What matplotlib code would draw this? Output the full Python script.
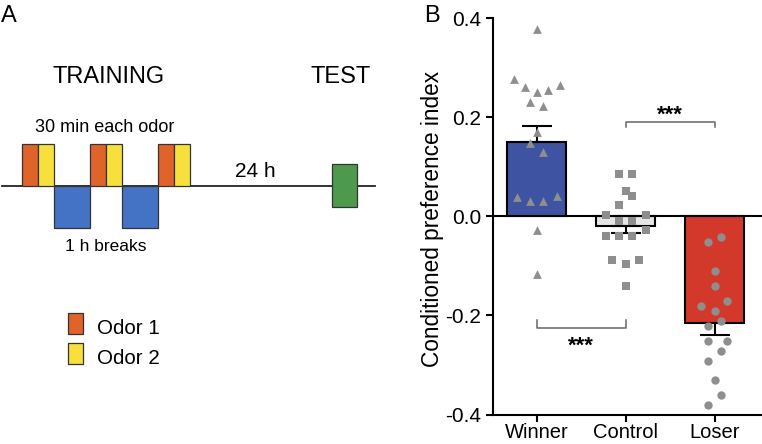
import numpy as np
import matplotlib
matplotlib.use("Agg")
import matplotlib.pyplot as plt
from matplotlib.patches import Rectangle

plt.rcParams['font.family'] = ['Liberation Sans', 'DejaVu Sans']
plt.rcParams['axes.unicode_minus'] = False

# ---- data (panel B) ----
groups = ['Winner', 'Control', 'Loser']
means = [0.151, -0.019, -0.215]
sems = [0.032, 0.014, 0.025]

winner_pts = [0.378, 0.277, 0.261, 0.251, 0.255, 0.265, 0.230, 0.222, 0.171,
              0.149, 0.131, 0.039, 0.032, 0.032, 0.042, -0.027, -0.117]
winner_jit = [0.0, -0.26, -0.13, 0.0, 0.13, 0.26, -0.075, 0.075, 0.0,
              -0.075, 0.075, -0.225, -0.075, 0.075, 0.225, 0.0, 0.0]

control_pts = [0.085, 0.085, 0.051, 0.041, 0.023, 0.002, 0.002, -0.009, -0.009,
               -0.027, -0.040, -0.040, -0.040, -0.089, -0.097, -0.089, -0.140]
control_jit = [-0.075, 0.075, 0.0, 0.075, -0.075, -0.225, 0.225, -0.075, 0.075,
               0.225, -0.225, -0.075, 0.075, -0.15, 0.0, 0.15, 0.0]

loser_pts = [-0.051, -0.042, -0.110, -0.141, -0.180, -0.170, -0.191, -0.211,
             -0.221, -0.251, -0.251, -0.271, -0.291, -0.331, -0.361, -0.381]
loser_jit = [-0.08, 0.07, 0.0, 0.0, -0.16, 0.14, 0.0, 0.07,
             -0.08, -0.08, 0.14, 0.07, -0.08, 0.0, 0.07, -0.08]

bar_colors = ['#3F53A3', '#E6E6E6', '#D3392A']
pt_color = '#8E8E8E'

# ---- schematic (panel A), in diagram units ----
n_sessions = 3
period = 68
odor_w = 16
break_w = 36
first_start = 22

fig = plt.figure(figsize=(7.62, 4.44), dpi=100)

# ================= Panel A =================
axA = fig.add_axes([0, 0, 0.5, 1])
axA.set_xlim(0, 381)
axA.set_ylim(444, 0)
axA.axis('off')

line_y = 186.3
axA.plot([2, 375], [line_y, line_y], color='#222222', lw=1.3, zorder=1)

for i in range(n_sessions):
    x0 = first_start + i * period
    axA.add_patch(Rectangle((x0, line_y - 42), odor_w, 42, fc='#E0642A', ec='#333333', lw=0.9, zorder=2))
    axA.add_patch(Rectangle((x0 + odor_w, line_y - 42), odor_w, 42, fc='#F7E03C', ec='#333333', lw=0.9, zorder=2))
    if i < n_sessions - 1:
        axA.add_patch(Rectangle((x0 + 2 * odor_w, line_y), break_w, 41.5, fc='#4472C4', ec='#333333', lw=0.9, zorder=2))

axA.add_patch(Rectangle((332.3, 164.3), 24.4, 42.7, fc='#4E9A4C', ec='#333333', lw=0.9, zorder=2))

axA.text(1, 22, 'A', fontsize=17, ha='left', va='baseline')
axA.text(109, 83.3, 'TRAINING', fontsize=17, ha='center', va='baseline')
axA.text(341, 83.3, 'TEST', fontsize=17, ha='center', va='baseline')
axA.text(105, 131.7, '30 min each odor', fontsize=13, ha='center', va='baseline')
axA.text(255, 176.7, '24 h', fontsize=15, ha='center', va='baseline')
axA.text(106, 250.7, '1 h breaks', fontsize=12.5, ha='center', va='baseline')

axA.add_patch(Rectangle((67.7, 313.3), 15.6, 21, fc='#E0642A', ec='#333333', lw=0.9))
axA.add_patch(Rectangle((67.7, 343), 15.6, 21, fc='#F7E03C', ec='#333333', lw=0.9))
axA.text(96.7, 334.3, 'Odor 1', fontsize=14.8, ha='left', va='baseline')
axA.text(96.7, 364, 'Odor 2', fontsize=14.8, ha='left', va='baseline')

# ================= Panel B =================
axB = fig.add_axes([492.7 / 762, 29.5 / 444, (762 - 492.7) / 762, 396.2 / 444])
x = np.arange(len(groups))
axB.bar(x, means, width=0.66, color=bar_colors, edgecolor='black', linewidth=1.5, zorder=2)

for xi, m, s in zip(x, means, sems):
    yerr = [[0], [s]] if m > 0 else [[s], [0]]
    axB.errorbar([xi], [m], yerr=yerr, fmt='none', ecolor='black', elinewidth=1.5,
                 capsize=11, capthick=1.5, zorder=3)

axB.scatter(x[0] + np.array(winner_jit), winner_pts, marker='^', s=40, color=pt_color, lw=0, zorder=4)
axB.scatter(x[1] + np.array(control_jit), control_pts, marker='s', s=38, color=pt_color, lw=0, zorder=4)
axB.scatter(x[2] + np.array(loser_jit), loser_pts, marker='o', s=36, color=pt_color, lw=0, zorder=4)

axB.axhline(0, color='black', lw=1.5, zorder=3)
axB.set_xlim(-0.494, 2.53)
axB.set_ylim(-0.4, 0.4)
axB.set_yticks([-0.4, -0.2, 0.0, 0.2, 0.4])
axB.set_yticklabels(['-0.4', '-0.2', '0.0', '0.2', '0.4'])
axB.set_xticks(x)
axB.set_xticklabels(groups)
axB.tick_params(labelsize=15, width=1.5, length=5, color='black')
axB.tick_params(axis='x', labelsize=14.5, pad=1)
for side in ['top', 'right']:
    axB.spines[side].set_visible(False)
for side in ['left', 'bottom']:
    axB.spines[side].set_linewidth(1.5)

# significance brackets
br_col = '#666666'
axB.plot([1, 1, 2, 2], [0.181, 0.191, 0.191, 0.181], color=br_col, lw=1.1)
axB.text(1.5, 0.205, '***', fontsize=16, fontweight='bold', ha='center', va='center')
axB.plot([0, 0, 1, 1], [-0.21, -0.225, -0.225, -0.21], color=br_col, lw=1.1)
axB.text(0.5, -0.263, '***', fontsize=16, fontweight='bold', ha='center', va='center')

fig.text(432 / 762, 1 - 219.2 / 444, 'Conditioned preference index', fontsize=16.3,
         rotation=90, ha='center', va='center')
fig.text(424.3 / 762, 1 - 21.7 / 444, 'B', fontsize=17, ha='left', va='baseline')

fig.savefig('out.png', dpi=100)
